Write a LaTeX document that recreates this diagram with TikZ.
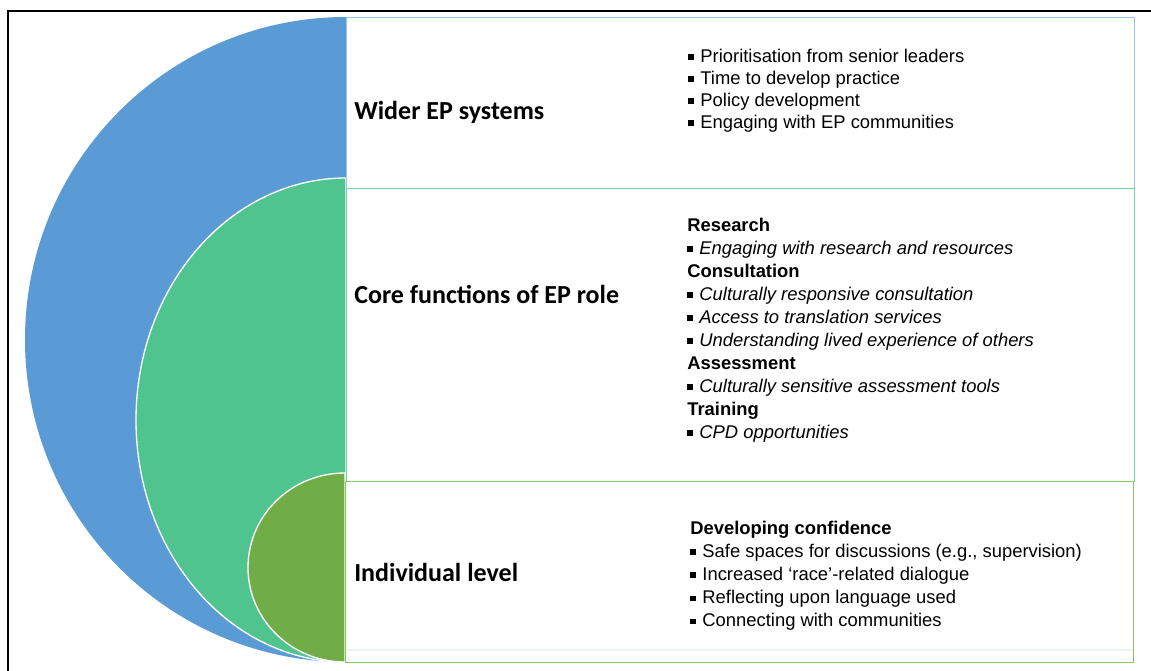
\documentclass[tikz,border=0pt]{standalone}
\usepackage{fontspec}
\setmainfont{Liberation Sans}
\newfontfamily\headfont{Carlito}
\usetikzlibrary{positioning}
\definecolor{epblue}{HTML}{5B9BD5}
\definecolor{epmint}{HTML}{50C48E}
\definecolor{epolive}{HTML}{70AD47}
\definecolor{bluerule}{HTML}{9DC3E6}
\definecolor{mintrule}{HTML}{6ED6A4}
\definecolor{oliverule}{HTML}{86C766}
\definecolor{faintrule}{HTML}{EDF4F4}

% small square bullet
\newcommand{\sqb}{\rule[0.14em]{0.31em}{0.31em}\hspace{0.35em}}

\begin{document}
\begin{tikzpicture}[
    x=0.75pt, y=-0.75pt,
    panel/.style={rectangle, line width=0.8pt, minimum width=591pt, anchor=north west, inner sep=0pt},
    heading/.style={anchor=west, inner sep=0pt, font=\headfont\bfseries\fontsize{19.5}{23}\selectfont},
    items/.style={anchor=north west, inner sep=0pt, align=left, font=\fontsize{13.8}{#1}\selectfont},
    items/.default=17.3pt,
    halfdisc/.style={draw=white, line width=1pt}
]
\useasboundingbox (0,0) rectangle (1151,670);

% nested half discs
\fill[epblue] (346,17) arc[start angle=270, end angle=90, x radius=321, y radius=322.5] -- cycle;
\filldraw[fill=epmint, halfdisc] (346,178) arc[start angle=270, end angle=90, x radius=210, y radius=242] -- cycle;
\filldraw[fill=epolive, halfdisc] (345,473) arc[start angle=270, end angle=90, x radius=97, y radius=94.5] -- cycle;

% panels
\node[panel, draw=bluerule, minimum height=128.25pt] (wider) at (346,17) {};
\node[panel, draw=mintrule, minimum height=219.75pt] (core) at (346,188) {};
\node[panel, draw=oliverule, minimum height=135.75pt] (indiv) at (345,481) {};
\draw[faintrule, line width=1.2pt] (347,650) -- (1133,650);

% level titles
\node[heading] (widerhead) at (354,112) {Wider EP systems};
\node[heading] (corehead) at (354,294) {Core functions of EP role};
\node[heading] (indivhead) at (354,572) {Individual level};

% lists
\node[items=16.5pt] (widerlist) at (688,49) {%
  \sqb Prioritisation from senior leaders\\
  \sqb Time to develop practice\\
  \sqb Policy development\\
  \sqb Engaging with EP communities};

\node[items] (corelist) at (687,217.5) {%
  \textbf{Research}\\
  \sqb\textit{Engaging with research and resources}\\
  \textbf{Consultation}\\
  \sqb\textit{Culturally responsive consultation}\\
  \sqb\textit{Access to translation services}\\
  \sqb\textit{Understanding lived experience of others}\\
  \textbf{Assessment}\\
  \sqb\textit{Culturally sensitive assessment tools}\\
  \textbf{Training}\\
  \sqb\textit{CPD opportunities}};

\node[items] (indivlist) at (690,521) {%
  \textbf{Developing confidence}\\
  \sqb Safe spaces for discussions (e.g., supervision)\\
  \sqb Increased `race'-related dialogue\\
  \sqb Reflecting upon language used\\
  \sqb Connecting with communities};

% outer frame
\draw[line width=1.1pt] (8,690) -- (8,11) -- (1170,11);
\end{tikzpicture}
\end{document}
